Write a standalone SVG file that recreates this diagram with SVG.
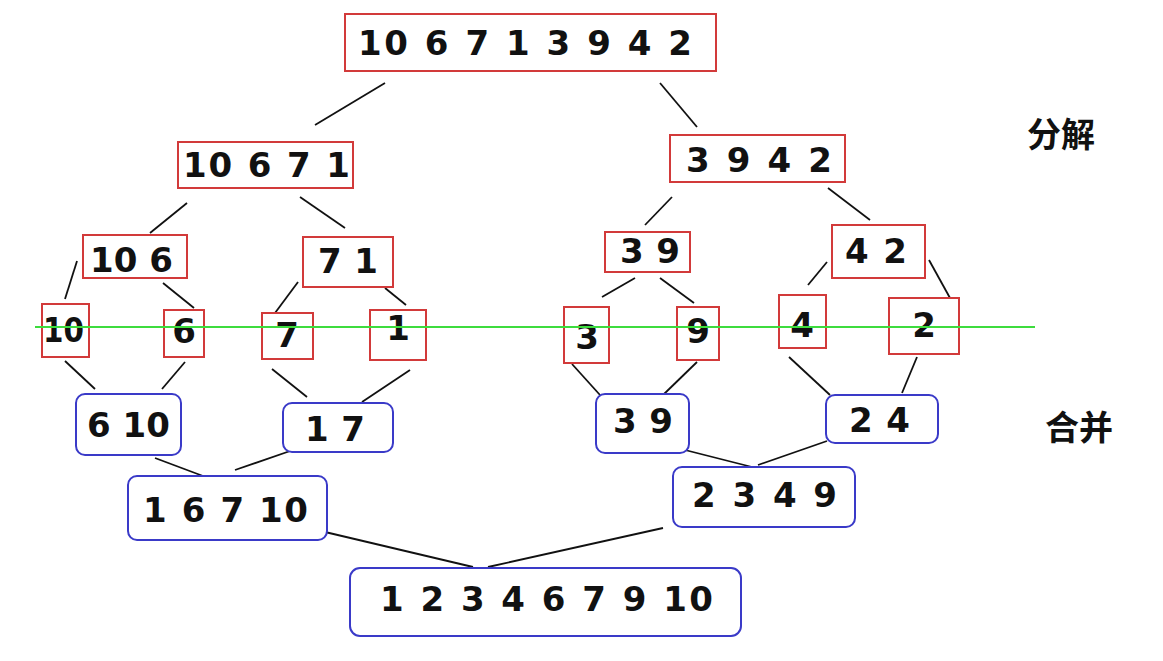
<svg xmlns="http://www.w3.org/2000/svg" width="1163" height="661" viewBox="0 0 1163 661">
<style>
.bg{fill:#ffffff}
.split rect{fill:#ffffff;stroke:#d23a3a;stroke-width:2}
.merge rect{fill:#ffffff;stroke:#3a3ac8;stroke-width:2}
text.n{font-family:"DejaVu Sans","Liberation Sans",sans-serif;font-weight:bold;font-size:34px;fill:#111}
text.c{font-family:"Liberation Sans","Noto Sans CJK SC",sans-serif;font-weight:bold;font-size:34px;fill:#111}
#connectors line{stroke:#111;stroke-width:1.8}
</style>
<rect class="bg" x="0" y="0" width="1163" height="661"/>
<g id="connectors">
<line x1="385" y1="83" x2="315" y2="125"/>
<line x1="660" y1="83" x2="697" y2="127"/>
<line x1="187" y1="203" x2="150" y2="233"/>
<line x1="300" y1="197" x2="345" y2="228"/>
<line x1="672" y1="197" x2="645" y2="225"/>
<line x1="828" y1="188" x2="870" y2="220"/>
<line x1="77" y1="261" x2="65" y2="299"/>
<line x1="163" y1="283" x2="194" y2="308"/>
<line x1="298" y1="282" x2="275" y2="313"/>
<line x1="385" y1="288" x2="406" y2="305"/>
<line x1="635" y1="278" x2="602" y2="297"/>
<line x1="660" y1="278" x2="694" y2="303"/>
<line x1="827" y1="262" x2="808" y2="285"/>
<line x1="929" y1="260" x2="950" y2="298"/>
<line x1="65" y1="361" x2="95" y2="389"/>
<line x1="185" y1="362" x2="162" y2="389"/>
<line x1="272" y1="369" x2="307" y2="397"/>
<line x1="410" y1="370" x2="362" y2="402"/>
<line x1="572" y1="364" x2="600" y2="395"/>
<line x1="697" y1="362" x2="663" y2="395"/>
<line x1="789" y1="357" x2="830" y2="395"/>
<line x1="917" y1="357" x2="902" y2="393"/>
<line x1="155" y1="458" x2="203" y2="476"/>
<line x1="293" y1="450" x2="235" y2="470"/>
<line x1="685" y1="450" x2="752" y2="467"/>
<line x1="827" y1="441" x2="758" y2="465"/>
<line x1="325" y1="532" x2="473" y2="567"/>
<line x1="663" y1="528" x2="488" y2="567"/>
</g>
<g class="split">
<g id="s0"><rect x="345" y="14" width="371" height="57"/><text class="n" x="358" y="55" textLength="334" lengthAdjust="spacing">10 6 7 1 3 9 4 2</text></g>
<g id="s1"><rect x="178" y="142" width="175" height="46"/><text class="n" x="183" y="177" textLength="167" lengthAdjust="spacing">10 6 7 1</text></g>
<g id="s2"><rect x="670" y="135" width="175" height="47"/><text class="n" x="686" y="172" textLength="146" lengthAdjust="spacing">3 9 4 2</text></g>
<g id="s3"><rect x="83" y="235" width="104" height="43"/><text class="n" x="90" y="272" textLength="83" lengthAdjust="spacing">10 6</text></g>
<g id="s4"><rect x="303" y="237" width="90" height="50"/><text class="n" x="318" y="273" textLength="60" lengthAdjust="spacing">7 1</text></g>
<g id="s5"><rect x="605" y="232" width="85" height="40"/><text class="n" x="620" y="263" textLength="60" lengthAdjust="spacing">3 9</text></g>
<g id="s6"><rect x="832" y="225" width="93" height="53"/><text class="n" x="845" y="263" textLength="62" lengthAdjust="spacing">4 2</text></g>
<g id="s7"><rect x="42" y="304" width="47" height="53"/><text class="n" x="43" y="342" textLength="41" lengthAdjust="spacingAndGlyphs">10</text></g>
<g id="s8"><rect x="164" y="310" width="40" height="47"/><text class="n" x="184" y="343" text-anchor="middle">6</text></g>
<g id="s9"><rect x="262" y="313" width="51" height="46"/><text class="n" x="287" y="347" text-anchor="middle">7</text></g>
<g id="s10"><rect x="370" y="310" width="56" height="50"/><text class="n" x="398" y="340" text-anchor="middle">1</text></g>
<g id="s11"><rect x="564" y="307" width="45" height="56"/><text class="n" x="587" y="349" text-anchor="middle">3</text></g>
<g id="s12"><rect x="677" y="307" width="42" height="53"/><text class="n" x="698" y="343" text-anchor="middle">9</text></g>
<g id="s13"><rect x="779" y="295" width="47" height="53"/><text class="n" x="802" y="337" text-anchor="middle">4</text></g>
<g id="s14"><rect x="889" y="298" width="70" height="56"/><text class="n" x="924" y="337" text-anchor="middle">2</text></g>
</g>
<line x1="35" y1="327" x2="1035" y2="327" stroke="#3ddc3d" stroke-width="2"/>
<g class="merge">
<g id="m0"><rect x="76" y="394" width="105" height="61" rx="9"/><text class="n" x="87" y="437" textLength="83" lengthAdjust="spacing">6 10</text></g>
<g id="m1"><rect x="283" y="403" width="110" height="49" rx="9"/><text class="n" x="305" y="441" textLength="60" lengthAdjust="spacing">1 7</text></g>
<g id="m2"><rect x="596" y="394" width="93" height="59" rx="9"/><text class="n" x="613" y="433" textLength="60" lengthAdjust="spacing">3 9</text></g>
<g id="m3"><rect x="826" y="395" width="112" height="48" rx="9"/><text class="n" x="849" y="432" textLength="61" lengthAdjust="spacing">2 4</text></g>
<g id="m4"><rect x="128" y="476" width="199" height="64" rx="9"/><text class="n" x="143" y="522" textLength="165" lengthAdjust="spacing">1 6 7 10</text></g>
<g id="m5"><rect x="673" y="467" width="182" height="60" rx="9"/><text class="n" x="692" y="507" textLength="145" lengthAdjust="spacing">2 3 4 9</text></g>
<g id="m6"><rect x="350" y="568" width="391" height="68" rx="10"/><text class="n" x="380" y="611" textLength="333" lengthAdjust="spacing">1 2 3 4 6 7 9 10</text></g>
</g>
<text class="c" x="1027" y="147">分解</text>
<text class="c" x="1045" y="440">合并</text>
</svg>
